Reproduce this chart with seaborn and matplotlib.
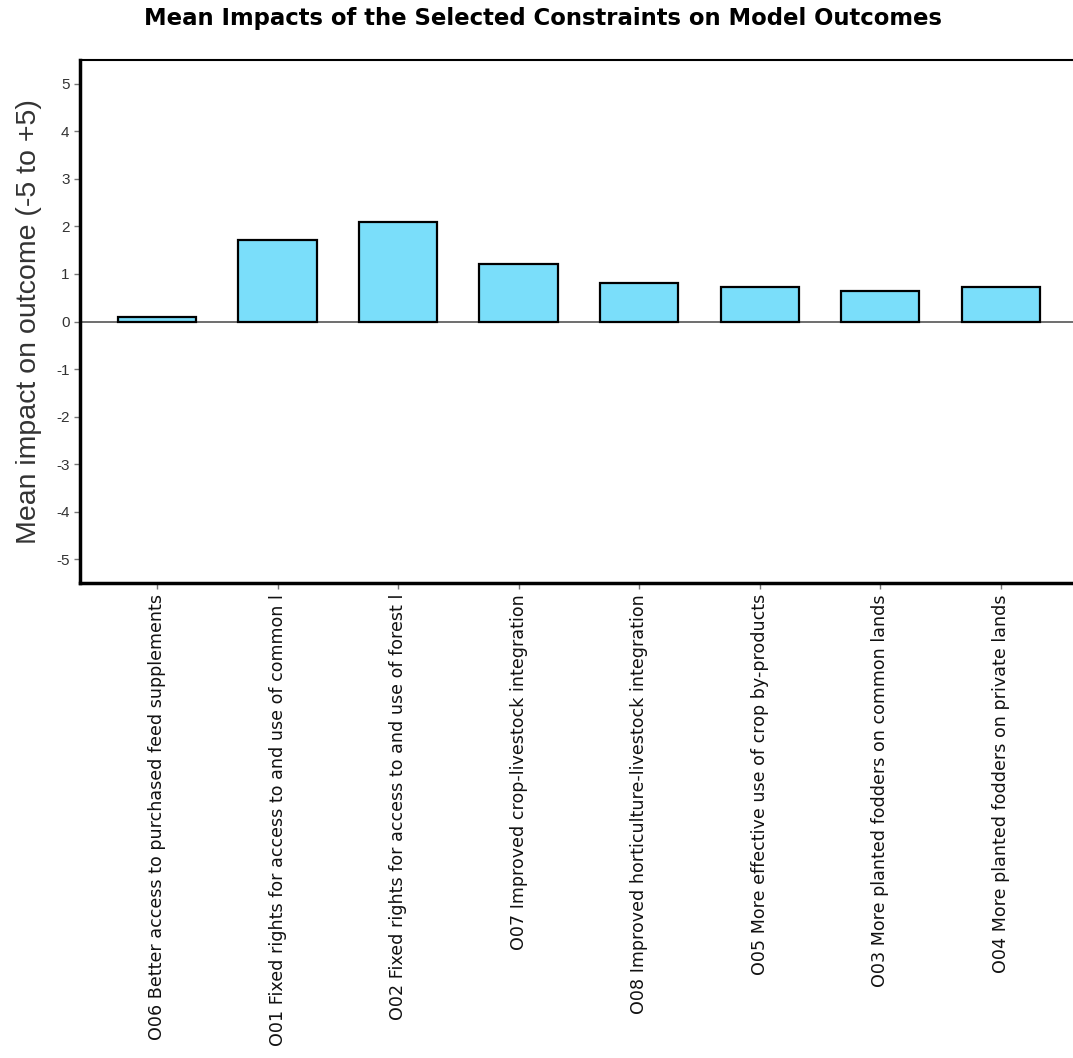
import matplotlib
matplotlib.use("Agg")
import matplotlib.pyplot as plt
import seaborn as sns
import pandas as pd

sns.set_style("white")
plt.rcParams['font.family'] = ['Liberation Sans', 'DejaVu Sans']
plt.rcParams['axes.unicode_minus'] = False

outcomes = [
    "O06 Better access to purchased feed supplements",
    "O01 Fixed rights for access to and use of common l",
    "O02 Fixed rights for access to and use of forest l",
    "O07 Improved crop-livestock integration",
    "O08 Improved horticulture-livestock integration",
    "O05 More effective use of crop by-products",
    "O03 More planted fodders on common lands",
    "O04 More planted fodders on private lands",
]
mean_impact = [0.09, 1.72, 2.1, 1.2, 0.8, 0.72, 0.65, 0.72]

df = pd.DataFrame({"outcome": outcomes, "impact": mean_impact})

fig = plt.figure(figsize=(10.73, 10.58), dpi=100)
ax = fig.add_axes([80 / 1073, 1 - 583 / 1058, 993 / 1073, 523 / 1058])

sns.barplot(data=df, x="outcome", y="impact", color="#7adefa", saturation=1,
            width=0.65, edgecolor="black", linewidth=1.6, ax=ax)
ax.axhline(0, color="#555555", lw=1.2, zorder=0.5)

ax.set_ylim(-5.5, 5.5)
ax.set_xlim(-0.64, 7.6)
ax.set_yticks(range(-5, 6))
ax.tick_params(axis="y", labelsize=11, labelcolor="#333333", length=4, width=1,
               color="#777777", left=True)
ax.tick_params(axis="x", length=4, width=1, color="#777777", bottom=True, pad=4)
ax.set_xticks(range(len(outcomes)))
ax.set_xticklabels(outcomes, rotation=90, family="DejaVu Sans", fontsize=12.6,
                   color="#111111")
ax.set_xlabel("")
ax.set_ylabel("Mean impact on outcome (-5 to +5)", fontsize=20.5, color="#333333",
              labelpad=10)

for side in ["left", "bottom", "top"]:
    ax.spines[side].set_visible(True)
    ax.spines[side].set_color("black")
ax.spines["left"].set_linewidth(2.5)
ax.spines["bottom"].set_linewidth(2.5)
ax.spines["top"].set_linewidth(1.5)
ax.spines["right"].set_visible(False)

fig.text(0.506, 1 - 19 / 1058, "Mean Impacts of the Selected Constraints on Model Outcomes",
         ha="center", va="center", fontsize=16.4, fontweight="bold",
         family="DejaVu Sans", color="black")

fig.savefig("out.png", dpi=100)
